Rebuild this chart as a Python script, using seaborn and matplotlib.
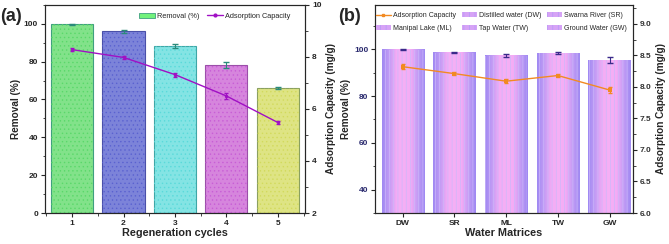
import numpy as np
import pandas as pd
import matplotlib
matplotlib.use('Agg')
import matplotlib.pyplot as plt
import seaborn as sns
from matplotlib.patches import Patch
from matplotlib.lines import Line2D
from matplotlib.colors import LinearSegmentedColormap
from matplotlib.ticker import MultipleLocator, FormatStrFormatter

# datos panel (a)
ciclos = ['1', '2', '3', '4', '5']
remocion_a = [99.7, 96.0, 88.3, 78.3, 66.2]
remocion_a_err = [0.3, 0.7, 1.0, 1.5, 0.6]
capacidad_a = [8.28, 7.98, 7.32, 6.50, 5.48]
capacidad_a_err = [0.06, 0.06, 0.08, 0.10, 0.05]
colores_a = ['#72f27c', '#6d76e8', '#74f4f4', '#e276ec', '#ecf474']
puntos_a = ['#5ad86a', '#5a62d0', '#5adada', '#c85ed6', '#d2da5c']
bordes_a = ['#3f9f7f', '#4a50a8', '#3fa6a6', '#9a4fa8', '#8aa060']

# datos panel (b)
matrices = ['DW', 'SR', 'ML', 'TW', 'GW']
nombres_b = ['Distilled water (DW)', 'Swarna River (SR)', 'Manipal Lake (ML)',
             'Tap Water (TW)', 'Ground Water (GW)']
remocion_b = [99.8, 98.6, 97.2, 98.3, 95.4]
remocion_b_err = [0.2, 0.2, 0.6, 0.5, 1.3]
capacidad_b = [8.32, 8.21, 8.09, 8.18, 7.95]
capacidad_b_err = [0.04, 0.02, 0.03, 0.02, 0.05]

sns.set_style('ticks')
plt.rcParams['font.family'] = ['Liberation Sans', 'DejaVu Sans']
plt.rcParams['font.weight'] = 'bold'
plt.rcParams['hatch.linewidth'] = 0.5
plt.rcParams['xtick.major.size'] = 3
plt.rcParams['ytick.major.size'] = 3
plt.rcParams['xtick.minor.size'] = 1.8
plt.rcParams['ytick.minor.size'] = 1.8

fig = plt.figure(figsize=(6.69, 2.44), dpi=100)
ax1 = fig.add_axes([0.067, 0.127, 0.389, 0.853])
ax2 = fig.add_axes([0.561, 0.127, 0.385, 0.853])

fs_tick = 6.0
fs_lab = 7.2
fs_xlab = 7.8

# ---------- panel (a) ----------
df_a = pd.DataFrame({'ciclo': ciclos, 'remocion': remocion_a})
sns.barplot(data=df_a, x='ciclo', y='remocion', hue='ciclo', palette=colores_a,
            legend=False, width=0.82, ax=ax1, zorder=1)
for p, c, d in zip(list(ax1.patches), bordes_a, puntos_a):
    p.set_edgecolor(c)
    p.set_linewidth(0.8)
    ax1.bar(p.get_x() + p.get_width() / 2, p.get_height(), width=p.get_width(),
            fill=False, hatch='....', edgecolor=d, linewidth=0, zorder=1.2)
ax1.errorbar(range(len(ciclos)), remocion_a, yerr=remocion_a_err, fmt='none',
             ecolor='#2a8a7a', elinewidth=0.8, capsize=2, zorder=3)
ax1.set_xlim(-0.53, 4.53)
ax1.set_ylim(0, 110)
ax1.yaxis.set_major_locator(MultipleLocator(20))
ax1.yaxis.set_minor_locator(MultipleLocator(10))
ax1.set_xlabel('Regeneration cycles', fontsize=fs_xlab, fontweight='bold', labelpad=1)
ax1.set_ylabel('Removal (%)', fontsize=fs_lab, fontweight='bold', labelpad=2)
ax1.tick_params(labelsize=fs_tick, pad=2)

ax1r = ax1.twinx()
sns.lineplot(x=range(len(ciclos)), y=capacidad_a, color='#a010c4', linewidth=1.0,
             marker='o', markersize=2.5, markeredgewidth=0, ax=ax1r)
ax1r.errorbar(range(len(ciclos)), capacidad_a, yerr=capacidad_a_err, fmt='none',
              ecolor='#a010c4', elinewidth=0.8, capsize=1.5)
ax1r.set_ylim(2, 10)
ax1r.yaxis.set_major_locator(MultipleLocator(2))
ax1r.yaxis.set_minor_locator(MultipleLocator(1))
ax1r.set_ylabel('Adsorption Capacity (mg/g)', fontsize=fs_lab, fontweight='bold', labelpad=3)
ax1r.tick_params(labelsize=fs_tick, pad=2)
ax1r.set_xlim(-0.53, 4.53)
ax1.set_xticks(range(len(ciclos)))
ax1.set_xticklabels(ciclos)
ax1.xaxis.set_minor_locator(MultipleLocator(0.5))

h_a = [Patch(facecolor=colores_a[0], edgecolor=bordes_a[0], linewidth=0.6),
       Line2D([], [], color='#a010c4', linewidth=1.0, marker='o', markersize=2)]
ax1r.legend(h_a, ['Removal (%)', 'Adsorption Capacity'], ncol=2, frameon=False,
            loc='upper right', bbox_to_anchor=(0.97, 0.995),
            prop={'size': 5.3, 'weight': 'normal'}, handlelength=2.2,
            columnspacing=1.0, handletextpad=0.3)

fig.text(0.0, 0.915, '(a)', fontsize=13, fontweight='bold')

# ---------- panel (b) ----------
y_min_b = 30
df_b = pd.DataFrame({'matriz': matrices, 'remocion': remocion_b})
sns.barplot(data=df_b, x='matriz', y='remocion', color='#b59af7', width=0.82,
            ax=ax2, zorder=1)
grad = LinearSegmentedColormap.from_list(
    'lila', ['#9f8af2', '#c49cf5', '#f4acf5', '#f6b0f6', '#f4acf5', '#c49cf5', '#9f8af2'])
g = np.linspace(0, 1, 64).reshape(1, -1)
for p in list(ax2.patches):
    x0 = p.get_x()
    w, h = p.get_width(), p.get_height()
    ax2.imshow(g, cmap=grad, extent=[x0, x0 + w, y_min_b, h], aspect='auto',
               zorder=1.5, interpolation='bilinear')
    p.set_linewidth(0.0)
    ax2.bar(x0 + w / 2, h, width=w, fill=False, hatch='||||',
            edgecolor='#cdb8fa', linewidth=0, zorder=1.8)
ax2.errorbar(range(len(matrices)), remocion_b, yerr=remocion_b_err, fmt='none',
             ecolor='#3a2a8a', elinewidth=0.8, capsize=2, zorder=3)
ax2.set_xlim(-0.53, 4.45)
ax2.set_ylim(y_min_b, 119)
ax2.yaxis.set_major_locator(MultipleLocator(20))
ax2.yaxis.set_minor_locator(MultipleLocator(10))
ax2.set_xlabel('Water Matrices', fontsize=fs_xlab, fontweight='bold', labelpad=1)
ax2.set_ylabel('Removal (%)', fontsize=fs_lab, fontweight='bold', labelpad=2)
ax2.tick_params(labelsize=fs_tick, pad=2)
ax2.tick_params(axis='y', labelcolor='#2a2a6e')
ax2.set_xticks(range(len(matrices)))
ax2.set_xticklabels(matrices)

ax2r = ax2.twinx()
sns.lineplot(x=range(len(matrices)), y=capacidad_b, color='#f28a22', linewidth=1.0,
             marker='s', markersize=2.5, markeredgewidth=0, ax=ax2r)
ax2r.errorbar(range(len(matrices)), capacidad_b, yerr=capacidad_b_err, fmt='none',
              ecolor='#f28a22', elinewidth=0.8, capsize=1.5)
ax2r.set_ylim(6.0, 9.3)
ax2r.set_xlim(-0.53, 4.45)
ax2r.yaxis.set_major_locator(MultipleLocator(0.5))
ax2r.yaxis.set_minor_locator(MultipleLocator(0.25))
ax2r.yaxis.set_major_formatter(FormatStrFormatter('%.1f'))
ax2r.set_ylabel('Adsorption Capacity (mg/g)', fontsize=fs_lab, fontweight='bold', labelpad=3)
ax2r.tick_params(labelsize=fs_tick, pad=2, labelcolor='#333333')

h_line = Line2D([], [], color='#f28a22', linewidth=1.0, marker='s', markersize=2)
h_bar = [Patch(facecolor='#d6a3f6', edgecolor='#b59af7', hatch='|||', linewidth=0)
         for _ in nombres_b]
handles = [h_line] + h_bar
labels = ['Adsorption Capacity'] + nombres_b
orden = [0, 3, 1, 4, 2, 5]
ax2r.legend([handles[i] for i in orden], [labels[i] for i in orden], ncol=3,
            frameon=False, loc='upper center', bbox_to_anchor=(0.49, 0.995),
            prop={'size': 5.0, 'weight': 'normal'}, handlelength=2.2,
            columnspacing=0.8, handletextpad=0.3, labelspacing=0.8)

fig.text(0.505, 0.915, '(b)', fontsize=13, fontweight='bold')

fig.savefig('out.png', dpi=100)
